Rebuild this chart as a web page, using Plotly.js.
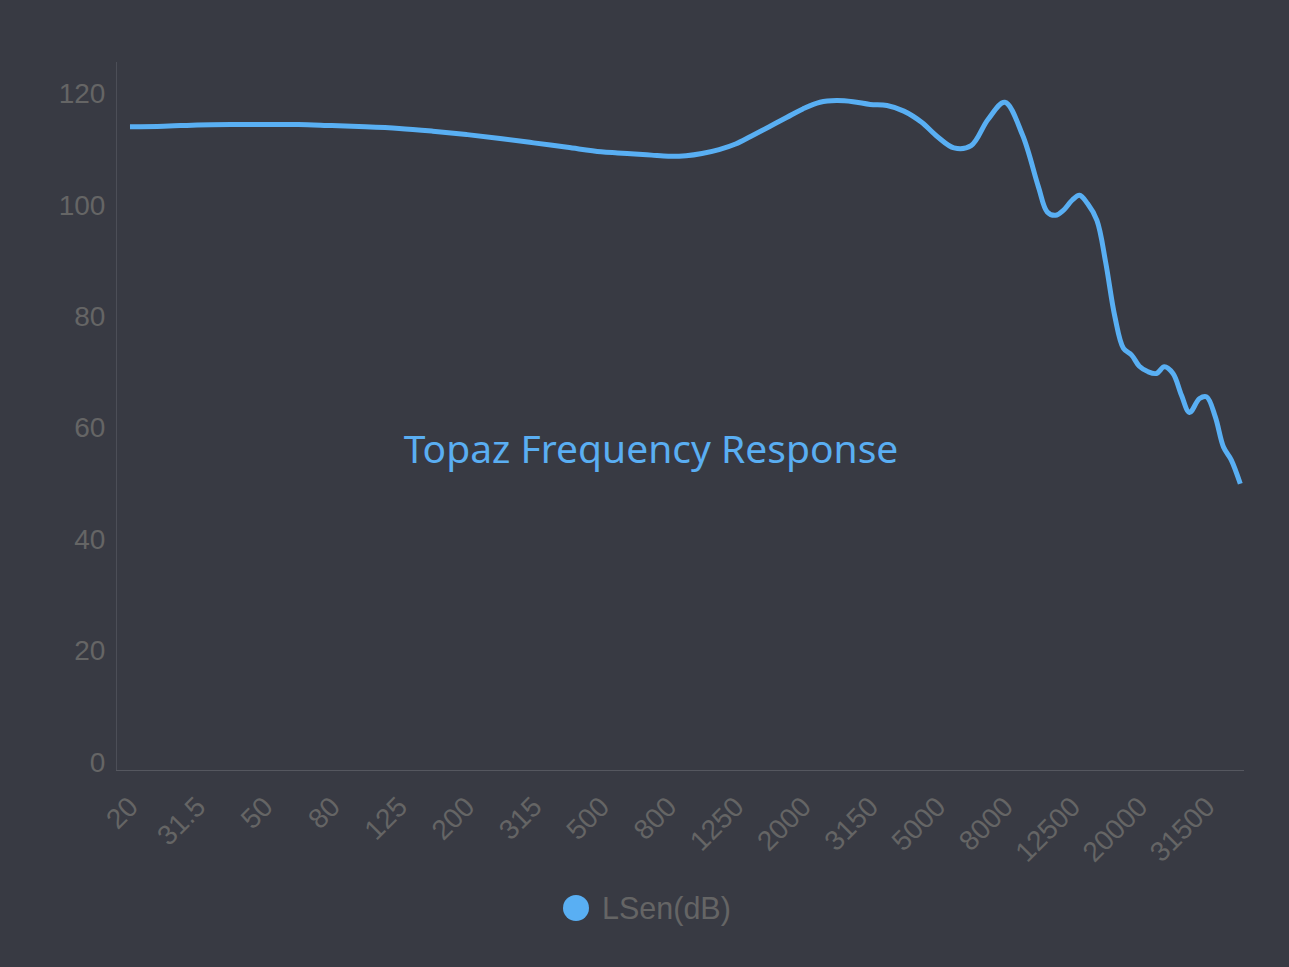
<!DOCTYPE html>
<html>
<head>
<meta charset="utf-8">
<script src="https://cdn.plot.ly/plotly-3.0.1.min.js"></script>
<style>
html,body{margin:0;padding:0;background:#383a43;}
#chart{width:1289px;height:967px;}
</style>
</head>
<body>
<div id="chart"></div>
<script>
// third-octave band categories of the x axis
const bands = ['20','25','31.5','40','50','63','80','100','125','160','200','250','315','400','500','630','800','1000','1250','1600','2000','2500','3150','4000','5000','6300','8000','10000','12500','16000','20000','25000','31500','40000'];
// labels shown on the axis
const tickLabels = ['20','31.5','50','80','125','200','315','500','800','1250','2000','3150','5000','8000','12500','20000','31500'];
// measurement frequencies (Hz)
const freqHz = [20,25,31.5,40,50,63,80,100,125,160,200,250,315,400,500,560,630,710,800,900,1000,1120,1250,1400,1600,1800,2000,2240,2500,2800,3150,3550,4000,4500,5000,5600,6300,7100,8000,9000,10000,10600,11200,11800,12500,13200,14000,15000,16000,17000,18000,19000,20000,21200,22400,23600,25000,26500,28000,30000,31500,33500,35500,37500,40000];
// LSen(dB)
const lsen = [114.0,114.1,114.3,114.4,114.4,114.4,114.2,114.0,113.7,113.2,112.6,111.9,111.1,110.3,109.5,109.3,109.1,108.9,108.7,108.8,109.2,109.9,110.9,112.3,114.0,115.7,117.2,118.4,118.7,118.5,118.0,117.8,116.8,114.8,112.2,110.2,110.6,115.3,118.4,112.5,103.2,98.7,98.1,99.0,100.8,101.7,100.2,97.2,89.6,79.9,74.2,73.0,71.0,70.0,69.7,70.9,69.7,65.8,62.7,65.2,65.5,61.9,56.5,54.2,49.9];
const seriesName = 'LSen(dB)';
const chartTitle = 'Topaz Frequency Response';

// position of a frequency on the band (category) axis
const bandHz = bands.map(Number);
function bandPos(f){
  for(let i=0;i<bandHz.length-1;i++){
    if(f>=bandHz[i] && f<=bandHz[i+1]){
      return i + Math.log(f/bandHz[i])/Math.log(bandHz[i+1]/bandHz[i]);
    }
  }
  return bandHz.length-1;
}
const xs = freqHz.map(bandPos);
const tickVals = tickLabels.map(l => bands.indexOf(l));

const lineColor = '#59aff3';
const tickColor = '#656565';

const trace = {
  x: xs, y: lsen, type:'scatter', mode:'lines', name: seriesName,
  line:{color:lineColor, width:5, shape:'spline', smoothing:1},
  hoverinfo:'y', showlegend:false
};

const L=117, R=1244, T=62, B=770;
const legX = (576-L)/(R-L), legY = (B-908)/(B-T);

const layout = {
  width:1289, height:967,
  paper_bgcolor:'#383a43', plot_bgcolor:'#383a43',
  margin:{l:L, r:1289-R, t:T, b:967-B, pad:0},
  showlegend:false,
  title:{text:chartTitle, font:{family:'Noto Sans', size:39, color:'#5aaef2'},
         x:651/1289, y:1-449/967, xref:'container', yref:'container', xanchor:'center', yanchor:'middle'},
  xaxis:{
    type:'linear', range:[-0.386, 33.11],
    tickmode:'array', tickvals:tickVals, ticktext:tickLabels, tickangle:-45,
    showgrid:false, zeroline:false, showline:true, linecolor:'#55575f', linewidth:1,
    ticks:'', ticklabelstandoff:8,
    tickfont:{family:'Liberation Sans, Arial, sans-serif', size:28, color:tickColor},
    fixedrange:true
  },
  yaxis:{
    range:[-1.49, 125.62], tickmode:'array', tickvals:[0,20,40,60,80,100,120],
    showgrid:false, zeroline:false, showline:true, linecolor:'#4c4e57', linewidth:1,
    ticks:'', ticklabelstandoff:5,
    tickfont:{family:'Liberation Sans, Arial, sans-serif', size:28, color:tickColor},
    fixedrange:true
  },
  shapes:[{
    type:'circle', xref:'paper', yref:'paper', xsizemode:'pixel', ysizemode:'pixel',
    xanchor:legX, yanchor:legY, x0:-13, x1:13, y0:-13, y1:13,
    fillcolor:lineColor, line:{width:0}
  }],
  annotations:[{
    text:seriesName, xref:'paper', yref:'paper', x:(600-L)/(R-L), y:legY,
    xanchor:'left', yanchor:'middle', showarrow:false,
    font:{family:'Liberation Sans, Arial, sans-serif', size:30.5, color:tickColor}
  }]
};

Plotly.newPlot('chart', [trace], layout, {displayModeBar:false, staticPlot:true});
</script>
</body>
</html>
